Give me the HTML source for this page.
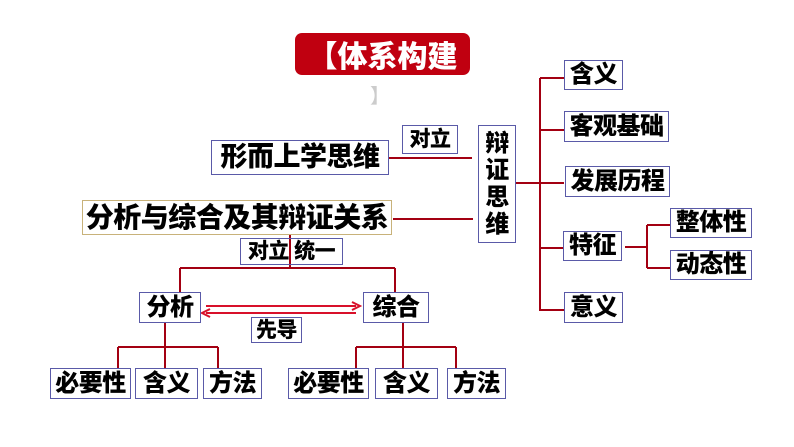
<!DOCTYPE html><html><head><meta charset="utf-8"><style>
body{margin:0;width:794px;height:447px;background:#fff;position:relative;overflow:hidden;font-family:"Liberation Sans","Noto Sans CJK SC",sans-serif;}
.b{position:absolute;border:1.5px solid #5a5aa8;box-sizing:border-box;background:#fff;font-weight:900;color:#000;display:flex;align-items:center;justify-content:center;font-size:24px;line-height:1;white-space:nowrap;letter-spacing:-0.5px}
.s{font-size:21px}
svg{position:absolute;left:0;top:0}
</style></head><body>
<div style="position:absolute;left:295px;top:33px;width:175px;height:42px;background:#c00010;border-radius:7px;color:#fff;font-weight:900;font-size:30px;display:flex;align-items:center;justify-content:center">【体系构建</div>
<div style="position:absolute;left:370px;top:80px;color:#ccc;font-size:20px">】</div>
<svg width="794" height="447"><g stroke="#a30012" stroke-width="2" fill="none">
<path d="M389 158H472M393 219H473M516 183H540M540 78V311M540 78H564M540 130H564M540 183H564M540 248H564M540 310H564M625 247H647M647 225V268M647 225H670M647 268H670"/>
<path d="M290 234V268M180 268H395M180 268V292M395 268V292"/>
<path d="M165 323V347M118 347H218M118 347V368M165 347V368M218 347V368"/>
<path d="M403 323V347M356 347H456M356 347V368M403 347V368M456 347V368"/>
</g>
<g stroke="#d8102a" stroke-width="2" fill="none"><path d="M206 306H356M356 313H206"/><path d="M352 302L360 306L352 310M210 309L202 313L210 317"/></g></svg>
<div class="b s" style="left:402px;top:125px;width:56px;height:29px">对立</div>
<div class="b" style="left:478px;top:125px;width:38px;height:118px;flex-direction:column;font-size:24px;line-height:27px">辩<br>证<br>思<br>维</div>
<div class="b" style="left:211px;top:140px;width:178px;height:35px;font-size:27px">形而上学思维</div>
<div class="b" style="left:82px;top:200px;width:310px;height:35px;font-size:28px;border-color:#c8b27a">分析与综合及其辩证关系</div>
<div class="b" style="left:564px;top:60px;width:59px;height:30px">含义</div>
<div class="b" style="left:564px;top:111px;width:105px;height:31px">客观基础</div>
<div class="b" style="left:565px;top:166px;width:105px;height:31px">发展历程</div>
<div class="b" style="left:563px;top:231px;width:59px;height:30px">特征</div>
<div class="b" style="left:564px;top:292px;width:59px;height:31px">意义</div>
<div class="b" style="left:670px;top:208px;width:82px;height:30px">整体性</div>
<div class="b" style="left:670px;top:250px;width:82px;height:30px">动态性</div>
<div class="b s" style="left:240px;top:238px;width:103px;height:27px;justify-content:space-around;background:transparent">对立&nbsp;统一</div>
<div class="b" style="left:139px;top:292px;width:62px;height:31px">分析</div>
<div class="b" style="left:363px;top:292px;width:66px;height:31px">综合</div>
<div class="b s" style="left:251px;top:317px;width:51px;height:26px">先导</div>
<div class="b" style="left:50px;top:368px;width:81px;height:31px">必要性</div>
<div class="b" style="left:135px;top:368px;width:63px;height:31px">含义</div>
<div class="b" style="left:203px;top:368px;width:59px;height:31px">方法</div>
<div class="b" style="left:288px;top:368px;width:81px;height:31px">必要性</div>
<div class="b" style="left:375px;top:368px;width:63px;height:31px">含义</div>
<div class="b" style="left:447px;top:368px;width:59px;height:31px">方法</div>
</body></html>
